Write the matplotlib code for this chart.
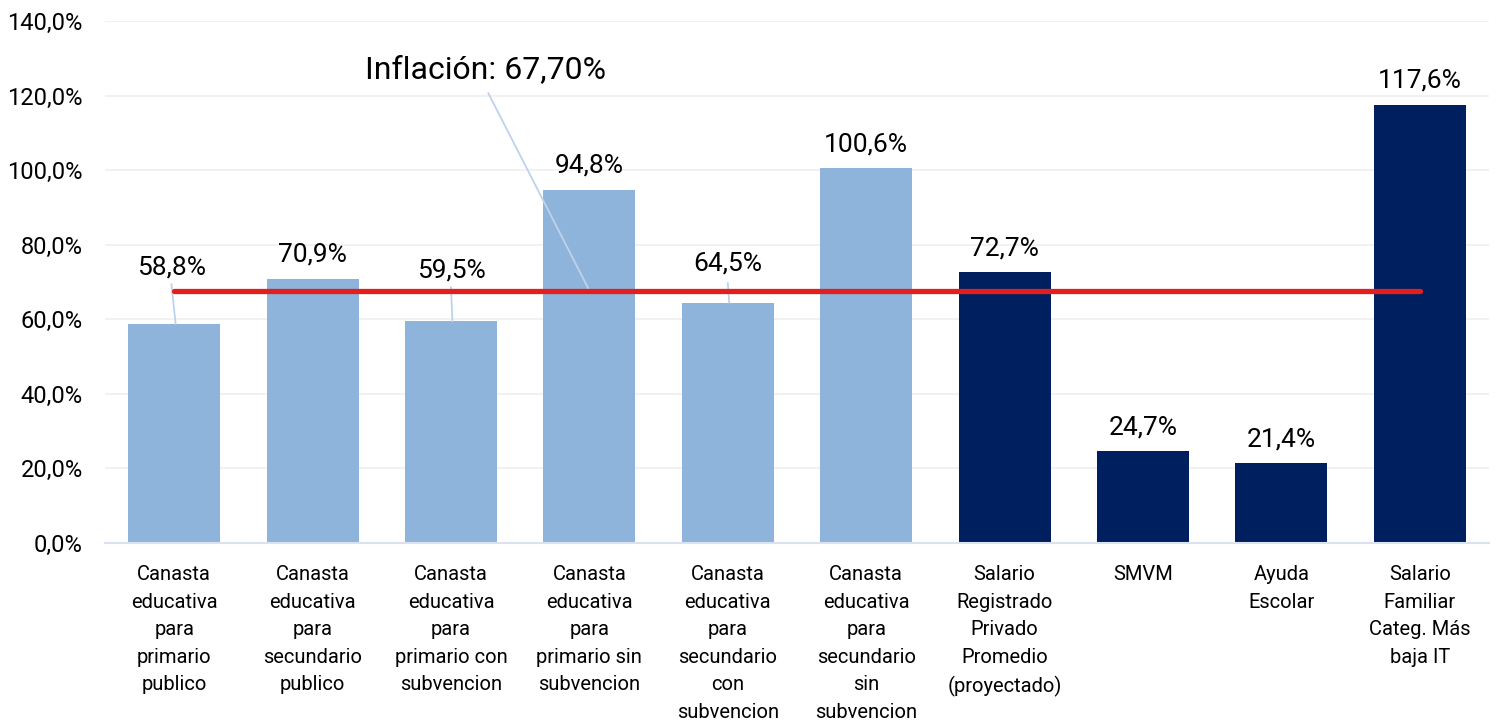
import matplotlib
matplotlib.use("Agg")
import matplotlib.pyplot as plt
from matplotlib.ticker import FuncFormatter, MultipleLocator

# categorias y valores (variacion %)
categorias = [
    "Canasta\neducativa\npara\nprimario\npublico",
    "Canasta\neducativa\npara\nsecundario\npublico",
    "Canasta\neducativa\npara\nprimario con\nsubvencion",
    "Canasta\neducativa\npara\nprimario sin\nsubvencion",
    "Canasta\neducativa\npara\nsecundario\ncon\nsubvencion",
    "Canasta\neducativa\npara\nsecundario\nsin\nsubvencion",
    "Salario\nRegistrado\nPrivado\nPromedio\n(proyectado)",
    "SMVM",
    "Ayuda\nEscolar",
    "Salario\nFamiliar\nCateg. Más\nbaja IT",
]
valores = [58.8, 70.9, 59.5, 94.8, 64.5, 100.6, 72.7, 24.7, 21.4, 117.6]
grupo = ["canasta"] * 6 + ["ingreso"] * 4
inflacion = 67.70

colores = {"canasta": "#8FB4DC", "ingreso": "#001F5E"}
plt.rcParams['font.family'] = ['Roboto', 'DejaVu Sans']

fig = plt.figure(figsize=(14.96, 7.27), dpi=100, facecolor='white')
ax = fig.add_axes([0.0702, 0.2531, 0.9251, 0.7180])

x = list(range(len(valores)))
ax.bar(x, valores, width=0.665, color=[colores[g] for g in grupo], zorder=2)

# linea de inflacion
ax.plot([x[0], x[-1]], [inflacion, inflacion], color='#E21E1E', lw=3.8,
        solid_capstyle='round', zorder=4)

# etiquetas de valores
con_guia = {0: (72.0, 69.4, -0.02), 2: (71.2, 68.6, 0.0), 4: (73.1, 69.7, 0.0)}
for i, v in enumerate(valores):
    txt = ('%.1f%%' % v).replace('.', ',')
    if i in con_guia:
        ybase, ytop, dx = con_guia[i]
        ax.text(i + dx, ybase, txt, ha='center', va='baseline', fontsize=19, zorder=5)
        ax.plot([i + dx, i + 0.01], [ytop, v], color='#BDD3EC', lw=1.3, zorder=3)
    else:
        ax.annotate(txt, (i, v), xytext=(0, 12), textcoords='offset points',
                    ha='center', va='baseline', fontsize=19, zorder=5)

# anotacion inflacion
ax.plot([2.27, 3.0], [120.6, inflacion], color='#BDD3EC', lw=1.3, zorder=3)
ax.text(2.25, 127.0, ('Inflación: %.2f%%' % inflacion).replace('.', ','),
        ha='center', va='center', fontsize=23, zorder=5)

ax.set_xlim(-0.5, len(valores) - 0.5)
ax.set_ylim(0, 140)
ax.yaxis.set_major_locator(MultipleLocator(20))
ax.yaxis.set_major_formatter(FuncFormatter(lambda y, p: ('%.1f%%' % y).replace('.', ',')))
ax.grid(axis='y', color='#EFEFEF', lw=1.2, zorder=0)
ax.set_axisbelow(True)

ax.set_xticks(x)
ax.set_xticklabels(categorias, fontsize=14.5, linespacing=1.57, va='top')
ax.tick_params(axis='x', length=0, pad=16)
ax.tick_params(axis='y', length=0, pad=16, labelsize=17)

for s in ['top', 'right', 'left']:
    ax.spines[s].set_visible(False)
ax.spines['bottom'].set_color('#D9E2EE')
ax.spines['bottom'].set_linewidth(1.5)

fig.savefig('out.png', dpi=100, facecolor='white')
